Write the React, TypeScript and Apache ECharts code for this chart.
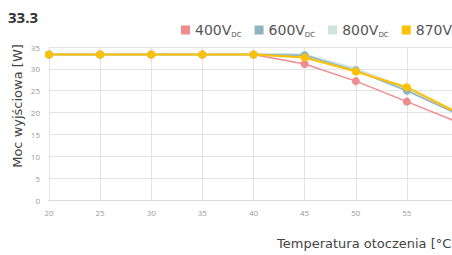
import React, { useEffect, useRef } from "react";
import * as echarts from "echarts";

const temps = [20, 25, 30, 35, 40, 45, 50, 55, 60];
const v400 = [33.3, 33.3, 33.3, 33.3, 33.3, 31.1, 27.2, 22.5, 17.8];
const v600 = [33.3, 33.3, 33.3, 33.3, 33.3, 33.1, 29.6, 25.0, 19.6];
const v800 = [33.3, 33.3, 33.3, 33.3, 33.3, 33.2, 29.9, 25.4, 19.9];
const v870 = [33.3, 33.3, 33.3, 33.3, 33.3, 32.6, 29.4, 25.8, 19.9];
const seriesNames = ["400V", "600V", "800V", "870V"];
const colors = ["#f08c8f", "#8fb4bd", "#cfe4dd", "#ffc000"];

export default function App() {
  const ref = useRef<HTMLDivElement>(null);
  useEffect(() => {
    if (!ref.current) return;
    const chart = echarts.init(ref.current, null, { renderer: "svg" });
    const font = "Open Sans";
    const wide = "DejaVu Sans";
    const mk = (i: number, data: number[], width: number) => ({
      name: seriesNames[i],
      type: "line",
      data: temps.map((t, k) => [t, data[k]]),
      symbol: "circle",
      symbolSize: 8,
      lineStyle: { color: colors[i], width },
      itemStyle: { color: colors[i] },
    });
    chart.setOption({
      animation: false,
      textStyle: { fontFamily: font },
      grid: { left: 49, top: 47, width: 409, height: 153 },
      legend: {
        left: 176,
        top: 18,
        itemWidth: 9,
        itemHeight: 9,
        itemGap: 13,
        icon: "rect",
        data: seriesNames,
        formatter: (name: string) => `{main|${name}}{sub|DC}`,
        textStyle: {
          rich: {
            main: { fontSize: 14, color: "#555", fontFamily: wide, lineHeight: 16 },
            sub: { fontSize: 7, color: "#555", fontFamily: wide, verticalAlign: "bottom", lineHeight: 12 },
          },
        },
      },
      xAxis: {
        type: "value",
        min: 20,
        max: 60,
        interval: 5,
        axisLine: { lineStyle: { color: "#d9d9d9" } },
        axisTick: { show: false },
        splitLine: { show: true, lineStyle: { color: "#e3e3e3" } },
        axisLabel: {
          color: "#999",
          fontSize: 8,
          margin: 8,
          formatter: (v: number) => (v >= 60 ? "" : String(v)),
        },
      },
      yAxis: {
        type: "value",
        min: 0,
        max: 35,
        interval: 5,
        axisLine: { show: false },
        axisTick: { show: false },
        splitLine: { lineStyle: { color: "#e3e3e3" } },
        axisLabel: { color: "#999", fontSize: 8, margin: 9 },
      },
      graphic: [
        {
          type: "text",
          left: 8,
          top: 9,
          style: { text: "33.3", font: `bold 15px '${font}'`, fill: "#333" },
        },
        {
          type: "text",
          x: 17,
          y: 106,
          rotation: Math.PI / 2,
          style: {
            text: "Moc wyjściowa [W]",
            font: `13px '${wide}'`,
            fill: "#444",
            align: "center",
            verticalAlign: "middle",
          },
        },
        {
          type: "text",
          left: 277,
          top: 237,
          style: { text: "Temperatura otoczenia [°C]", font: `13px '${wide}'`, fill: "#444" },
        },
      ],
      series: [mk(0, v400, 1.5), mk(2, v800, 3), mk(1, v600, 1.5), mk(3, v870, 2)],
    });
    return () => chart.dispose();
  }, []);
  return (
    <div
      ref={ref}
      style={{ position: "absolute", left: 0, top: 0, width: 480, height: 255 }}
    />
  );
}
